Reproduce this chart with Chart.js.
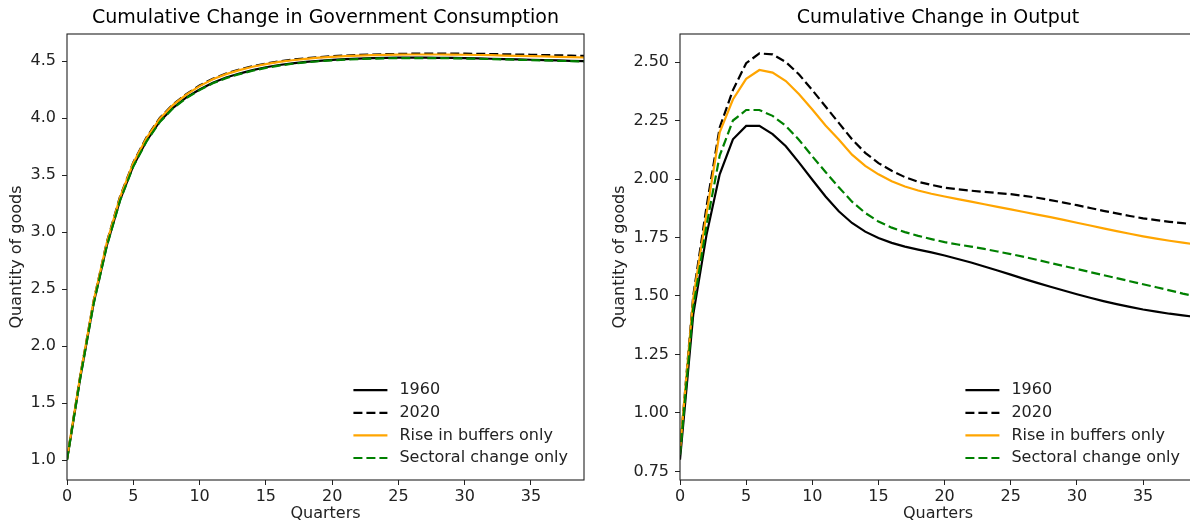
<!DOCTYPE html>
<html>
<head>
<meta charset="utf-8">
<script src="https://cdn.jsdelivr.net/npm/chart.js@4.4.0/dist/chart.umd.min.js"></script>
<style>
html, body { margin: 0; padding: 0; background: #fff; overflow: hidden; }
#wrap { position: relative; width: 1190px; height: 525px; overflow: hidden; }
#govChart { position: absolute; left: 0; top: 0; }
#outChart { position: absolute; left: 600px; top: 0; }
</style>
</head>
<body>
<div id="wrap">
  <canvas id="govChart" width="600" height="525"></canvas>
  <canvas id="outChart" width="620" height="525"></canvas>
</div>
<script>
// quarters after the shock
var quarters = [0,1,2,3,4,5,6,7,8,9,10,11,12,13,14,15,16,17,18,19,
                20,21,22,23,24,25,26,27,28,29,30,31,32,33,34,35,36,37,38,39];
var quarterTicks = [0, 5, 10, 15, 20, 25, 30, 35];

// cumulative change in government consumption
var gov1960 = [1.00,1.72,2.37,2.88,3.28,3.58,3.80,3.97,4.09,4.18,4.25,4.31,4.355,4.39,4.42,4.445,4.465,4.48,4.492,4.502,
               4.51,4.516,4.521,4.525,4.528,4.53,4.53,4.529,4.528,4.527,4.525,4.523,4.52,4.517,4.514,4.511,4.508,4.505,4.502,4.499];
var gov2020 = [1.01,1.74,2.39,2.91,3.31,3.61,3.83,4.00,4.12,4.21,4.285,4.345,4.39,4.425,4.455,4.478,4.497,4.512,4.524,4.534,
               4.542,4.548,4.553,4.557,4.56,4.562,4.564,4.565,4.565,4.565,4.564,4.563,4.561,4.559,4.557,4.555,4.552,4.55,4.547,4.545];
var govBuffers = [1.01,1.74,2.39,2.905,3.305,3.605,3.825,3.995,4.115,4.205,4.28,4.34,4.385,4.42,4.45,4.473,4.492,4.507,4.519,4.529,
                  4.537,4.543,4.548,4.551,4.554,4.556,4.557,4.557,4.557,4.556,4.555,4.553,4.551,4.548,4.546,4.543,4.54,4.537,4.534,4.531];
var govSectoral = [1.00,1.72,2.365,2.875,3.275,3.575,3.795,3.965,4.085,4.175,4.245,4.305,4.35,4.385,4.415,4.44,4.46,4.476,4.488,4.498,
                   4.506,4.512,4.517,4.521,4.524,4.526,4.526,4.526,4.525,4.524,4.522,4.52,4.517,4.514,4.511,4.508,4.505,4.502,4.499,4.496];
var govTicks = [1.0, 1.5, 2.0, 2.5, 3.0, 3.5, 4.0, 4.5];

// cumulative change in output
var out1960 = [0.80,1.42,1.76,2.02,2.17,2.227,2.227,2.192,2.14,2.07,1.997,1.925,1.862,1.812,1.775,1.748,1.727,1.711,1.698,1.686,
               1.673,1.658,1.643,1.626,1.609,1.591,1.573,1.556,1.539,1.523,1.507,1.492,1.478,1.465,1.453,1.442,1.433,1.424,1.417,1.41];
var out2020 = [0.84,1.50,1.88,2.22,2.38,2.495,2.537,2.533,2.50,2.447,2.38,2.31,2.24,2.17,2.112,2.068,2.035,2.008,1.988,1.975,
               1.963,1.956,1.95,1.945,1.94,1.935,1.928,1.92,1.91,1.899,1.888,1.876,1.864,1.853,1.842,1.832,1.824,1.817,1.811,1.806];
var outBuffers = [0.84,1.49,1.85,2.20,2.34,2.428,2.466,2.455,2.419,2.362,2.297,2.229,2.169,2.104,2.056,2.02,1.99,1.968,1.951,1.937,
                  1.925,1.914,1.903,1.892,1.881,1.87,1.859,1.848,1.837,1.825,1.813,1.801,1.789,1.777,1.766,1.755,1.745,1.736,1.728,1.72];
var outSectoral = [0.82,1.45,1.80,2.10,2.25,2.295,2.295,2.27,2.227,2.167,2.097,2.03,1.965,1.903,1.855,1.818,1.792,1.773,1.757,1.743,
                   1.73,1.72,1.711,1.701,1.69,1.679,1.667,1.654,1.641,1.628,1.615,1.602,1.589,1.576,1.563,1.55,1.537,1.524,1.51,1.498];
var outTicks = [0.75, 1.00, 1.25, 1.50, 1.75, 2.00, 2.25, 2.50];

Chart.defaults.font.family = '"DejaVu Sans", sans-serif';
Chart.defaults.color = '#222';

function pts(arr) {
    return quarters.map(function (q, i) { return {x: q, y: arr[i]}; });
}

function makeSets(a, b, c, d) {
    return [
        {label: '1960', data: pts(a), borderColor: '#000', order: 3},
        {label: '2020', data: pts(b), borderColor: '#000', borderDash: [9, 4], order: 2},
        {label: 'Rise in buffers only', data: pts(c), borderColor: '#ffa500', order: 1},
        {label: 'Sectoral change only', data: pts(d), borderColor: '#008000', borderDash: [9, 4], order: 0}
    ];
}

// box round the plot, like the matplotlib spines
var spines = {
    id: 'spines',
    afterDatasetsDraw: function (chart) {
        var a = chart.chartArea, ctx = chart.ctx;
        ctx.save();
        ctx.strokeStyle = '#222';
        ctx.lineWidth = 1.1;
        ctx.strokeRect(a.left, a.top, a.right - a.left, a.bottom - a.top);
        ctx.restore();
    }
};

// legend in the lower right corner of the plot, no frame
var insideLegend = {
    id: 'insideLegend',
    afterDraw: function (chart) {
        var a = chart.chartArea, ctx = chart.ctx;
        var sets = chart.data.datasets;
        ctx.save();
        ctx.font = '16px "DejaVu Sans"';
        var maxW = 0;
        sets.forEach(function (ds) { maxW = Math.max(maxW, ctx.measureText(ds.label).width); });
        var textX = a.right - 16 - maxW;
        sets.forEach(function (ds, i) {
            var y = a.bottom - 22 - 22.6 * (sets.length - 1 - i);
            ctx.strokeStyle = ds.borderColor;
            ctx.lineWidth = 2.2;
            ctx.setLineDash(ds.borderDash || []);
            ctx.beginPath();
            ctx.moveTo(textX - 46, y);
            ctx.lineTo(textX - 12, y);
            ctx.stroke();
            ctx.fillStyle = '#222';
            ctx.textBaseline = 'middle';
            ctx.textAlign = 'left';
            ctx.fillText(ds.label, textX, y);
        });
        ctx.restore();
    }
};

function makeOptions(title, yMin, yMax, yTicks, digits, axisW, titlePad, padRight) {
    return {
        responsive: false,
        animation: false,
        events: [],
        layout: {padding: {left: 0, right: padRight, top: 0, bottom: 0}},
        elements: {
            line: {borderWidth: 2.2, tension: 0, fill: false},
            point: {radius: 0}
        },
        plugins: {
            legend: {display: false},
            tooltip: {enabled: false},
            title: {
                display: true,
                text: title,
                fullSize: false,
                color: '#000',
                font: {size: 19, weight: 'normal'},
                padding: {top: 6.5, bottom: 4.7}
            }
        },
        scales: {
            x: {
                type: 'linear',
                min: 0,
                max: 39,
                afterBuildTicks: function (s) { s.ticks = quarterTicks.map(function (v) { return {value: v}; }); },
                afterFit: function (s) { s.height = 45; s.paddingLeft = 0; s.paddingRight = 0; },
                grid: {drawOnChartArea: false, drawTicks: true, tickLength: 5, color: '#222'},
                border: {display: false},
                ticks: {font: {size: 16}, padding: 2, maxRotation: 0, color: '#222'},
                title: {display: true, text: 'Quarters', font: {size: 16}, padding: {top: 0, bottom: 1.4}, color: '#222'}
            },
            y: {
                min: yMin,
                max: yMax,
                afterBuildTicks: function (s) { s.ticks = yTicks.map(function (v) { return {value: v}; }); },
                afterFit: function (s) { s.width = axisW; },
                grid: {drawOnChartArea: false, drawTicks: true, tickLength: 5, color: '#222'},
                border: {display: false},
                ticks: {
                    font: {size: 16},
                    padding: 6,
                    color: '#222',
                    callback: function (v) { return Number(v).toFixed(digits); }
                },
                title: {display: true, text: 'Quantity of goods', font: {size: 16}, padding: {top: titlePad, bottom: 0}, color: '#222'}
            }
        }
    };
}

new Chart(document.getElementById('govChart').getContext('2d'), {
    type: 'line',
    data: {datasets: makeSets(gov1960, gov2020, govBuffers, govSectoral)},
    options: makeOptions('Cumulative Change in Government Consumption', 0.825, 4.737, govTicks, 1, 67, 7.4, 16),
    plugins: [spines, insideLegend]
});

new Chart(document.getElementById('outChart').getContext('2d'), {
    type: 'line',
    data: {datasets: makeSets(out1960, out2020, outBuffers, outSectoral)},
    options: makeOptions('Cumulative Change in Output', 0.713, 2.62, outTicks, 2, 80, 10.4, 24),
    plugins: [spines, insideLegend]
});
</script>
</body>
</html>
